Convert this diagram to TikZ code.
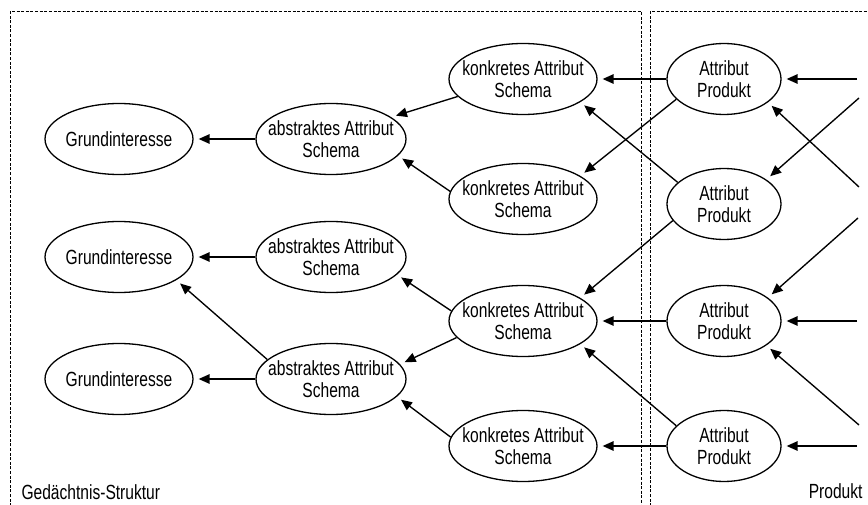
\documentclass[tikz,border=0pt]{standalone}
\usepackage{fontspec}
\setmainfont{Liberation Sans}[FakeStretch=0.76]
\usetikzlibrary{shapes.geometric,arrows.meta}
\begin{document}
\begin{tikzpicture}[x=1pt,y=-1pt,
  every node/.style={font=\fontsize{20.5}{22.5}\selectfont},
  ell/.style={ellipse, draw, line width=1.3pt, inner sep=0pt, minimum height=71pt},
  gi/.style={ell, minimum width=148pt, label={[align=center]center:Grundinteresse}},
  abs/.style={ell, minimum width=150pt, label={[align=center]center:abstraktes Attribut\\Schema}},
  kon/.style={ell, minimum width=148pt, label={[align=center]center:konkretes Attribut\\Schema}},
  prod/.style={ell, minimum width=114pt, label={[align=center]center:Attribut\\Produkt}},
  frame/.style={line width=1pt, dash pattern=on 3pt off 1.6pt},
  link/.style={line width=1.35pt, -{Triangle[length=11pt,width=9.5pt]}, shorten >=5pt}]

\useasboundingbox (0,0) rectangle (868,505);

% dashed frames of the two areas
\begin{scope}
  \clip (0,0) rectangle (868,505);
  \draw[frame] (10,520) -- (10,11.5) -- (641.5,11.5) -- (641.5,520);
  \draw[frame] (650,520) -- (650,11.5) -- (880,11.5);
\end{scope}

% memory structure
\node[gi] (g1) at (119,139) {};
\node[gi] (g2) at (119,257) {};
\node[gi] (g3) at (119,379) {};

\node[abs] (a1) at (331,139) {};
\node[abs] (a2) at (331,257) {};
\node[abs] (a3) at (331,379) {};

\node[kon] (k1) at (523,79) {};
\node[kon] (k2) at (523,199) {};
\node[kon] (k3) at (523,321) {};
\node[kon] (k4) at (523,446) {};

% product
\node[prod] (p1) at (724,79) {};
\node[prod] (p2) at (724,204) {};
\node[prod] (p3) at (724,321) {};
\node[prod] (p4) at (724,446) {};

\node[anchor=base west] (lmem) at (18,499) {Gedächtnis-Struktur};
\node[anchor=base east] (lprod) at (866,498) {Produkt};

% free ends of the incoming arrows
\coordinate (r1) at (857,79);
\coordinate (r2) at (859,98);
\coordinate (r3) at (859,187);
\coordinate (r4) at (858,218);
\coordinate (r5) at (857,321);
\coordinate (r6) at (859,425);
\coordinate (r7) at (857,446);

\draw[link] (r1) -- (p1.east);
\draw[link] (r2) -- (p2.30);
\draw[link] (r3) -- (p1.-28);
\draw[link] (r4) -- (p3.28);
\draw[link] (r5) -- (p3.east);
\draw[link] (r6) -- (p3.-30);
\draw[link] (r7) -- (p4.east);

% product attributes to concrete schemata
\draw[link] (p1.west) -- (k1.east);
\draw[link] (p1.203) -- (k2.22);
\draw[link] (p2.155) -- (k1.-22);
\draw[link] (p2.198) -- (k3.22);
\draw[link] (p3.west) -- (k3.east);
\draw[link] (p4.157) -- (k3.-22);
\draw[link] (p4.west) -- (k4.east);

% concrete to abstract schemata
\draw[link] (k1.195) -- (a1.20);
\draw[link] (k2.174) -- (a1.-14);
\draw[link] (k3.172) -- (a2.-15);
\draw[link] (k3.194) -- (a3.12);
\draw[link] (k4.173) -- (a3.-15);

% abstract schemata to basic interests
\draw[link] (a1.west) -- (g1.east);
\draw[link] (a2.west) -- (g2.east);
\draw[link] (a3.west) -- (g3.east);
\draw[link] (a3.163) -- (g2.-22);
\end{tikzpicture}
\end{document}
